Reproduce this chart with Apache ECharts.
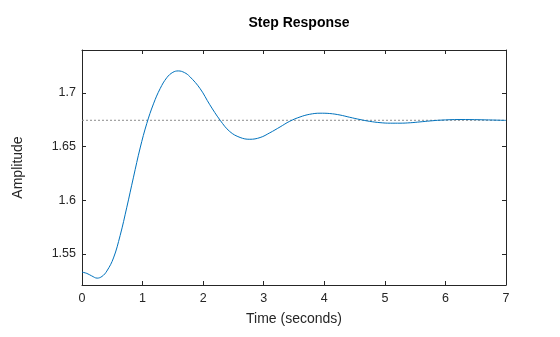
<!DOCTYPE html>
<html>
<head>
<meta charset="utf-8">
<script src="https://cdn.jsdelivr.net/npm/echarts@6/dist/echarts.min.js"></script>
<style>
  html, body { margin: 0; padding: 0; background: #fff; }
  #chart { width: 560px; height: 337px; }
</style>
</head>
<body>
<div id="chart"></div>
<script>
// Step response samples (time in seconds, amplitude)
const times = [0, 0.08, 0.16, 0.25, 0.33, 0.41, 0.52, 0.63, 0.74, 0.85, 0.96, 1.07, 1.18, 1.29,
  1.40, 1.50, 1.59, 1.69, 1.78, 1.95, 2.11, 2.28, 2.44, 2.61, 2.77, 2.94, 3.10, 3.27, 3.43,
  3.60, 3.76, 3.93, 4.09, 4.26, 4.42, 4.59, 4.75, 4.92, 5.09, 5.25, 5.42, 5.58, 5.75, 5.91,
  6.24, 6.57, 7.0];
const amplitude = [1.5330, 1.5318, 1.5295, 1.5274, 1.5290, 1.5340, 1.5462, 1.5672, 1.5935, 1.6215,
  1.6487, 1.6716, 1.6898, 1.7040, 1.7142, 1.7192, 1.7205, 1.7190, 1.7152, 1.7040, 1.6890,
  1.6746, 1.6640, 1.6585, 1.6568, 1.6584, 1.6628, 1.6683, 1.6736, 1.6776, 1.6801, 1.6811,
  1.6808, 1.6794, 1.6773, 1.6752, 1.6735, 1.6723, 1.6718, 1.6718, 1.6722, 1.6730, 1.6739,
  1.6746, 1.6752, 1.6750, 1.6744];
const steadyState = 1.6745;
const xTicks = [0, 1, 2, 3, 4, 5, 6, 7];
const yTicks = [1.55, 1.6, 1.65, 1.7];

const axisColor = '#262626';
const font = 'Liberation Sans, Arial, Helvetica, sans-serif';

const chart = echarts.init(document.getElementById('chart'), null, { renderer: 'canvas' });

const xBase = {
  type: 'value', min: 0, max: 7, interval: 1,
  axisLine: { show: true, onZero: false, lineStyle: { color: axisColor, width: 1 } },
  axisTick: { show: true, inside: true, length: 4, lineStyle: { color: axisColor } },
  splitLine: { show: false }
};
const yBase = {
  type: 'value', min: 1.521, max: 1.74,
  axisLine: { show: true, onZero: false, lineStyle: { color: axisColor, width: 1 } },
  axisTick: { show: true, inside: true, length: 4, customValues: yTicks, lineStyle: { color: axisColor } },
  splitLine: { show: false }
};

chart.setOption({
  animation: false,
  backgroundColor: '#ffffff',
  title: {
    text: 'Step Response',
    left: 294, top: 11, textAlign: 'center',
    textStyle: { fontFamily: font, fontSize: 14, fontWeight: 'bold', color: '#000' }
  },
  grid: { left: 82, right: 54, top: 50, bottom: 52, containLabel: false },
  xAxis: [
    Object.assign({}, xBase, {
      position: 'bottom',
      name: 'Time (seconds)', nameLocation: 'middle', nameGap: 27,
      nameTextStyle: { fontFamily: font, fontSize: 14, color: axisColor },
      axisLabel: {
        show: true, margin: 7, fontFamily: font, fontSize: 12.5, color: axisColor,
        customValues: xTicks, formatter: v => String(v)
      }
    }),
    Object.assign({}, xBase, { position: 'top', axisLabel: { show: false } })
  ],
  yAxis: [
    Object.assign({}, yBase, {
      position: 'left',
      name: 'Amplitude', nameLocation: 'middle', nameGap: 57,
      nameTextStyle: { fontFamily: font, fontSize: 14, color: axisColor },
      axisLabel: {
        show: true, margin: 6, fontFamily: font, fontSize: 12.5, color: axisColor,
        customValues: yTicks, formatter: v => String(+v.toFixed(2))
      }
    }),
    Object.assign({}, yBase, { position: 'right', axisLabel: { show: false } })
  ],
  series: [
    {
      type: 'line',
      xAxisIndex: 0, yAxisIndex: 0,
      data: [[0, steadyState], [7, steadyState]],
      showSymbol: false, silent: true,
      lineStyle: { color: '#8c8c8c', width: 1, type: [2, 2] },
      z: 1
    },
    {
      type: 'line',
      xAxisIndex: 0, yAxisIndex: 0,
      data: times.map((t, i) => [t, amplitude[i]]),
      smooth: 0.4,
      showSymbol: false,
      lineStyle: { color: '#0072BD', width: 1 },
      z: 2
    }
  ]
});
</script>
</body>
</html>
